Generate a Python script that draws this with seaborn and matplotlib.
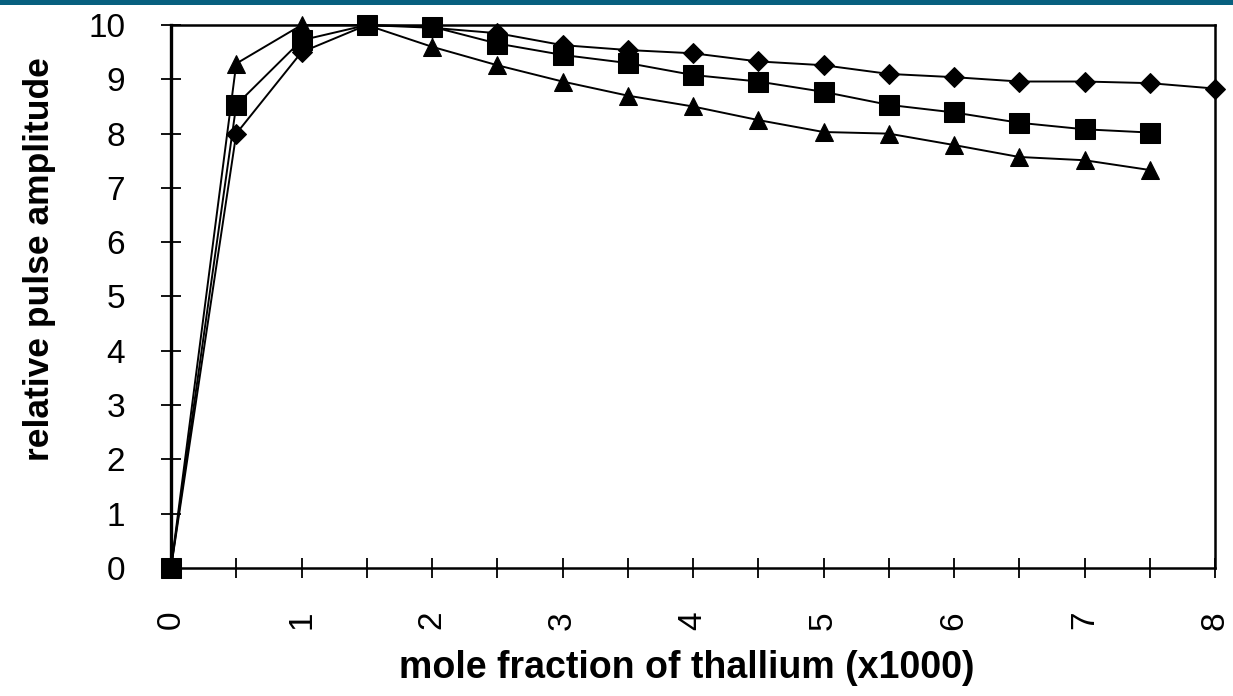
import numpy as np
import pandas as pd
import seaborn as sns
import matplotlib.pyplot as plt
from matplotlib.ticker import MultipleLocator
from matplotlib.patches import Rectangle

# mole fraction of thallium (x1000)
x_long = [0, 0.5, 1, 1.5, 2, 2.5, 3, 3.5, 4, 4.5, 5, 5.5, 6, 6.5, 7, 7.5, 8]
x_short = [0, 0.5, 1, 1.5, 2, 2.5, 3, 3.5, 4, 4.5, 5, 5.5, 6, 6.5, 7, 7.5]

# relative pulse amplitude
diamonds = [0, 8.0, 9.5, 10.0, 9.95, 9.85, 9.63, 9.54, 9.48, 9.33, 9.26, 9.10, 9.04, 8.96, 8.96, 8.93, 8.83]
squares = [0, 8.53, 9.72, 10.0, 9.97, 9.66, 9.45, 9.30, 9.08, 8.96, 8.77, 8.53, 8.39, 8.20, 8.08, 8.02]
triangles = [0, 9.29, 10.0, 10.0, 9.6, 9.26, 8.96, 8.70, 8.50, 8.25, 8.03, 8.0, 7.79, 7.57, 7.51, 7.33]

sns.set_theme(style="ticks")
plt.rcParams['font.family'] = ['Liberation Sans', 'DejaVu Sans']
plt.rcParams['text.color'] = 'black'
plt.rcParams['axes.labelcolor'] = 'black'

fig = plt.figure(figsize=(12.33, 6.96), dpi=100)
ax = fig.add_axes([0.1387, 0.184, 0.8467, 0.78])

series = [
    (x_long, diamonds, 'D', 10),
    (x_short, triangles, '^', 13),
    (x_short, squares, 's', 14),
]
for xs, ys, mk, ms in series:
    sns.lineplot(x=xs, y=ys, ax=ax, color='black', linewidth=1.4,
                 marker=mk, markersize=ms, markeredgecolor='black',
                 markerfacecolor='black', clip_on=False, zorder=3)

ax.set_xlim(0, 8)
ax.set_ylim(0, 10)
ax.xaxis.set_major_locator(MultipleLocator(1))
ax.xaxis.set_minor_locator(MultipleLocator(0.5))
ax.yaxis.set_major_locator(MultipleLocator(1))

for s in ax.spines.values():
    s.set_linewidth(1.8)
    s.set_color('black')
ax.spines['left'].set_linewidth(2.4)

ax.tick_params(axis='both', which='both', direction='inout', length=14, width=1.3,
               color='black', labelcolor='black')
ax.tick_params(axis='y', labelsize=24, pad=26)
ax.tick_params(axis='x', labelsize=24, pad=24, labelrotation=90)
ax.tick_params(axis='x', which='minor', labelbottom=False)

ax.set_xlabel('mole fraction of thallium (x1000)', fontsize=27, fontweight='bold',
              va='center', color='black')
ax.set_ylabel('relative pulse amplitude', fontsize=25.5, fontweight='bold',
              va='center', color='black')
ax.xaxis.set_label_coords(0.494, -0.184)
ax.yaxis.set_label_coords(-0.126, 0.569)

# blue header strip at the top of the picture
fig.patches.append(Rectangle((0, 1 - 5 / 696), 1, 5 / 696, transform=fig.transFigure,
                             facecolor='#07607f', edgecolor='none', zorder=10))

fig.savefig('out.png', dpi=100)
